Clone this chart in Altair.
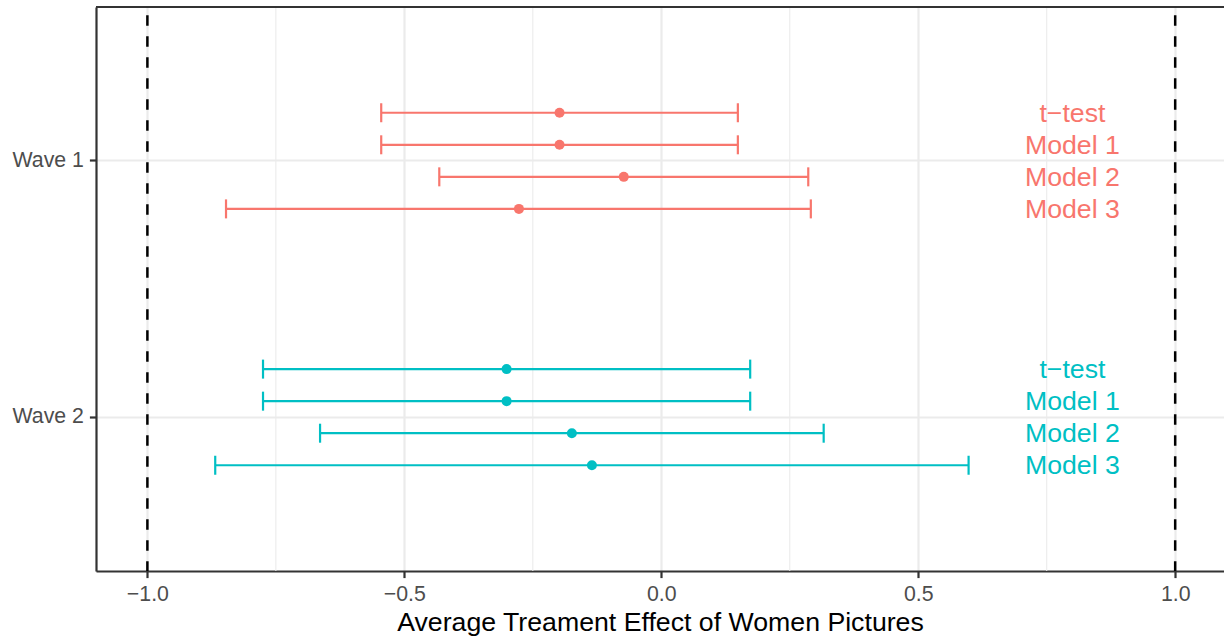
import altair as alt
import pandas as pd

# Estimates with 95% intervals for each wave and specification
waves = ["Wave 1"] * 4 + ["Wave 2"] * 4
models = ["t−test", "Model 1", "Model 2", "Model 3"] * 2
estimates = [-0.198, -0.198, -0.073, -0.277, -0.301, -0.301, -0.174, -0.135]
lower = [-0.545, -0.545, -0.432, -0.847, -0.775, -0.775, -0.664, -0.868]
upper = [0.149, 0.149, 0.286, 0.291, 0.173, 0.173, 0.316, 0.598]

model_order = ["t−test", "Model 1", "Model 2", "Model 3"]
wave_order = ["Wave 1", "Wave 2"]
wave_colors = ["#F8766D", "#00BFC4"]
label_pos = 0.8

major_breaks = [-1.0, -0.5, 0.0, 0.5, 1.0]
minor_breaks = [-0.75, -0.25, 0.25, 0.75]
ref_lines = [-1.0, 1.0]

df = pd.DataFrame({
    "wave": waves,
    "model": models,
    "estimate": estimates,
    "lower": lower,
    "upper": upper,
    "label_x": [label_pos] * len(waves),
})
minor_df = pd.DataFrame({"minor": minor_breaks})
ref_df = pd.DataFrame({"ref": ref_lines})

W, H = 1128, 564
FONT = "Liberation Sans"
X_TITLE = "Average Treament Effect of Women Pictures"

# each wave band is H / 2.2 px tall; the dodged rows take the middle half of it
BAND = H / 2.2
DODGE = [BAND * 0.25, BAND * 0.75]

x_scale = alt.Scale(domain=[-1.1, 1.095], nice=False, zero=False)
x_axis = alt.Axis(
    title=X_TITLE, values=major_breaks, format=".1f",
    grid=True, gridColor="#EBEBEB", gridWidth=2.2,
    labelFontSize=21.3, labelColor="#4D4D4D", labelPadding=6,
    tickSize=6.6, tickWidth=2.2, tickColor="#333333",
    domainColor="#333333", domainWidth=2.2,
    titleFontSize=26.7, titleColor="black", titleFontWeight="normal",
    titlePadding=5,
)


def xq(field):
    return alt.X(f"{field}:Q", scale=x_scale, axis=x_axis)


y_enc = alt.Y(
    "wave:N", sort=wave_order,
    scale=alt.Scale(type="band", paddingInner=0, paddingOuter=0.1),
    axis=alt.Axis(
        title=None, grid=True, gridColor="#EBEBEB", gridWidth=2.2,
        labelFontSize=21.3, labelColor="#4D4D4D", labelPadding=6,
        tickSize=6.6, tickWidth=2.2, tickColor="#333333",
        domainColor="#333333", domainWidth=2.2,
    ),
)
yoff = alt.YOffset("model:N", sort=model_order,
                   scale=alt.Scale(range=DODGE, paddingInner=0, paddingOuter=0))
color = alt.Color("wave:N", scale=alt.Scale(domain=wave_order, range=wave_colors),
                  legend=None)

minor_grid = alt.Chart(minor_df).mark_rule(color="#EBEBEB", strokeWidth=1.1).encode(
    x=xq("minor")
)

ref = alt.Chart(ref_df).mark_rule(
    color="black", strokeWidth=2.5, strokeDash=[10.5, 10.5], strokeDashOffset=12.7
).encode(x=xq("ref"))

base = alt.Chart(df)

bars = base.mark_rule(strokeWidth=2.2).encode(
    x=xq("lower"), x2="upper", y=y_enc, yOffset=yoff, color=color
)
cap_lo = base.mark_tick(size=19, thickness=2.2, opacity=1).encode(
    x=xq("lower"), y=y_enc, yOffset=yoff, color=color
)
cap_hi = base.mark_tick(size=19, thickness=2.2, opacity=1).encode(
    x=xq("upper"), y=y_enc, yOffset=yoff, color=color
)
points = base.mark_circle(size=100, opacity=1).encode(
    x=xq("estimate"), y=y_enc, yOffset=yoff, color=color
)
labels = base.mark_text(fontSize=26.7, font=FONT, align="center",
                        baseline="middle", dy=1).encode(
    x=xq("label_x"), y=y_enc, yOffset=yoff, color=color, text="model:N"
)

# top edge of the panel frame (left and bottom come from the axis domains)
frame_top = base.mark_rule(color="#333333", strokeWidth=2.2).encode(
    x=alt.value(0), x2=alt.value(W), y=alt.value(0)
)

chart = alt.layer(
    minor_grid, ref, bars, cap_lo, cap_hi, points, labels, frame_top
).properties(
    width=W, height=H,
    autosize=alt.AutoSizeParams(type="none"),
    padding={"left": 96, "top": 7, "right": 0, "bottom": 72},
).configure_view(stroke=None).configure(font=FONT)

chart.save("out.html", embed_options={"renderer": "svg", "actions": False})
